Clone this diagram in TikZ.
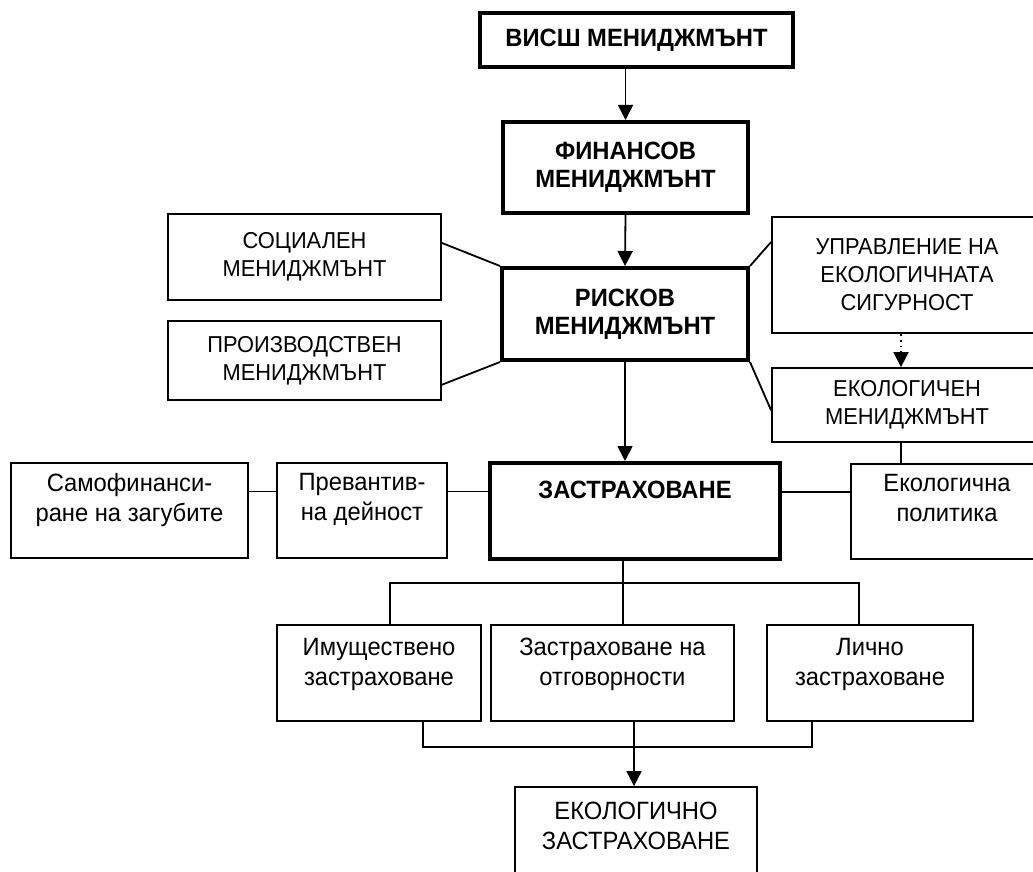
\documentclass[tikz,border=0pt]{standalone}
\usepackage{fontspec}
\setmainfont{Liberation Sans}[FakeStretch=0.95]
\usetikzlibrary{positioning}
\usetikzlibrary{calc}
\usetikzlibrary{arrows.meta}

\tikzset{
    box/.style={draw, rectangle, line width=0.9pt, align=center,
        font=\fontsize{12.5}{15}\selectfont},
    capsbox/.style={box, font=\fontsize{11.5}{14}\selectfont},
    mainbox/.style={box, line width=2pt,
        font=\bfseries\fontsize{12.5}{14}\selectfont},
    lifted/.style={text depth=#1},
    conn/.style={line width=0.9pt},
    arr/.style={conn, -{Triangle[length=7.5pt,width=7.5pt]}}
}

\begin{document}
\begin{tikzpicture}[x=0.5pt, y=-0.5pt]
                \useasboundingbox (0,0) rectangle (1033,872);
                \clip (0,0) rectangle (1033,872);

                % Management chain
                \node[mainbox, minimum width=156.5pt, minimum height=27pt] (visch) at (636.5,40) {ВИСШ МЕНИДЖМЪНТ};
                \node[mainbox, minimum width=122.5pt, minimum height=45.5pt] (fin) at (625.5,167.5) {ФИНАНСОВ\\МЕНИДЖМЪНТ};
                \node[mainbox, minimum width=123pt, minimum height=46pt] (risk) at (625,314) {РИСКОВ\\МЕНИДЖМЪНТ};

                % Side management boxes
                \node[capsbox, minimum width=136.5pt, minimum height=43pt] (social) at (304.5,257) {СОЦИАЛЕН\\МЕНИДЖМЪНТ};
                \node[capsbox, minimum width=136.5pt, minimum height=39.5pt] (proizv) at (304.5,360.5) {ПРОИЗВОДСТВЕН\\МЕНИДЖМЪНТ};
                \node[capsbox, minimum width=135pt, minimum height=58pt] (upravl) at (907,275) {УПРАВЛЕНИЕ НА\\ЕКОЛОГИЧНАТА\\СИГУРНОСТ};
                \node[capsbox, minimum width=135pt, minimum height=37pt] (ekomen) at (907,405) {ЕКОЛОГИЧЕН\\МЕНИДЖМЪНТ};

                % Insurance row
                \node[mainbox, lifted=21pt, minimum width=145pt, minimum height=48pt] (zastr) at (635,511) {ЗАСТРАХОВАНЕ};
                \node[box, lifted=13.5pt, minimum width=118.5pt, minimum height=47.5pt] (samof) at (129.5,510.5) {Самофинанси-\\ране на загубите};
                \node[box, lifted=13.5pt, minimum width=85pt, minimum height=47.5pt] (prev) at (362,510.5) {Превантив-\\на дейност};
                \node[box, lifted=13.5pt, minimum width=96pt, minimum height=47.5pt] (ekopol) at (947,511.5) {Екологична\\политика};

                % Kinds of insurance
                \node[box, lifted=11pt, minimum width=102pt, minimum height=48pt] (imusht) at (379,673) {Имуществено\\застраховане};
                \node[box, lifted=11pt, minimum width=121.5pt, minimum height=48pt] (otgov) at (612.5,673) {Застраховане на\\отговорности};
                \node[box, lifted=11pt, minimum width=103pt, minimum height=48pt] (lichno) at (870,673) {Лично\\застраховане};
                \node[box, lifted=10.5pt, minimum width=121pt, minimum height=49pt] (ekozastr) at (636,836) {ЕКОЛОГИЧНО\\ЗАСТРАХОВАНЕ};

                % Branch points
                \coordinate (splitL) at (390,583);
                \coordinate (split) at (623,583);
                \coordinate (splitR) at (859,583);
                \coordinate (joinL) at (423,747);
                \coordinate (join) at (634,747);
                \coordinate (joinR) at (812,747);

                % Connection
                \draw[arr] (visch.south -| fin.north) -- (fin.north);
                \draw[arr] (fin.south) -- (risk.north);
                \draw[arr] (risk.south) -- (risk.south |- zastr.north);

                \draw[conn] ($(social.north east)!.34!(social.south east)$) -- (risk.north west);
                \draw[conn] ($(proizv.north east)!.8!(proizv.south east)$) -- (risk.south west);
                \draw[conn] (risk.north east) -- ($(upravl.north west)!.22!(upravl.south west)$);
                \draw[conn] (risk.south east) -- ($(ekomen.north west)!.57!(ekomen.south west)$);
                \draw[arr, dotted] ([xshift=-3pt]upravl.south) -- ([xshift=-3pt]ekomen.north);
                \draw[conn] ([xshift=-3pt]ekomen.south) -- ([xshift=-3pt]ekomen.south |- ekopol.north);

                \draw[conn] ([yshift=9.5pt]samof.east) -- ([yshift=9.5pt]prev.west);
                \draw[conn] ([yshift=9.5pt]prev.east) -- ([yshift=9.5pt]prev.east -| zastr.west);
                \draw[conn] ([yshift=9.5pt]zastr.east) -- ([yshift=9.5pt]zastr.east -| ekopol.west);

                \draw[conn] (split |- zastr.south) -- (split |- otgov.north);
                \draw[conn] (splitL |- imusht.north) -- (splitL) -- (splitR) -- (splitR |- lichno.north);
                \draw[conn] (joinL |- imusht.south) -- (joinL) -- (joinR) -- (joinR |- lichno.south);
                \draw[arr] (join |- otgov.south) -- (join |- ekozastr.north);
\end{tikzpicture}
\end{document}
